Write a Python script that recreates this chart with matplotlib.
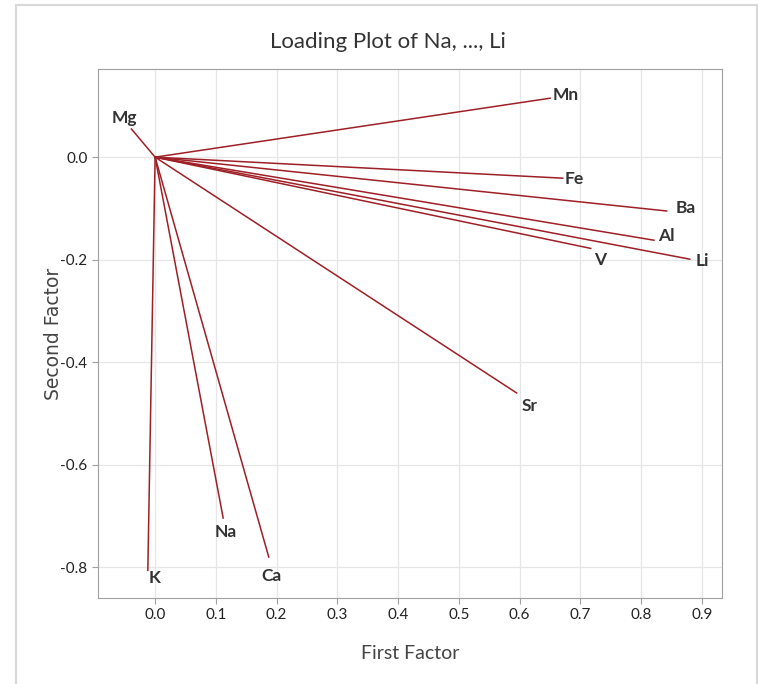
import matplotlib.pyplot as plt
from matplotlib.patches import Rectangle

# loadings
elements = ['Mn', 'Fe', 'Ba', 'Al', 'Li', 'V', 'Sr', 'Mg', 'K', 'Na', 'Ca']
first_factor = [0.650, 0.671, 0.842, 0.821, 0.880, 0.717, 0.595, -0.039, -0.012, 0.112, 0.187]
second_factor = [0.115, -0.041, -0.105, -0.162, -0.199, -0.178, -0.460, 0.055, -0.806, -0.704, -0.780]

# label offsets from line end, in pixels
offsets = {'Mn': (16, 3), 'Fe': (11, -1), 'Ba': (19, 3), 'Al': (12, 4),
           'Li': (13, -2), 'V': (9, -12), 'Sr': (13, -13), 'Mg': (-7, 11),
           'K': (7, -8), 'Na': (3, -14), 'Ca': (3, -19)}

xticks = [0.0, 0.1, 0.2, 0.3, 0.4, 0.5, 0.6, 0.7, 0.8, 0.9]
yticks = [0.0, -0.2, -0.4, -0.6, -0.8]

line_col = '#9e1f26'
fnt = ['Lato', 'DejaVu Sans']

fig = plt.figure(figsize=(7.61, 6.84), dpi=100)
ax = fig.add_axes([98 / 761, 1 - 598 / 684, 624 / 761, 529 / 684])

# frame round the whole picture
fig.patches.append(Rectangle((16 / 761, -0.01), 741 / 761, 1 - 5 / 684 + 0.01,
                             transform=fig.transFigure, fill=False,
                             edgecolor='#d8d8d8', linewidth=1.5))

for name, x, y in zip(elements, first_factor, second_factor):
    ax.plot([0, x], [0, y], color=line_col, linewidth=1.1)
    ax.annotate(name, (x, y), xytext=offsets[name], textcoords='offset pixels',
                ha='center', va='center', fontsize=12.5, fontweight='bold',
                color='#333333', family=fnt)

ax.set_xlim(-0.094, 0.933)
ax.set_ylim(-0.860, 0.172)
ax.set_xticks(xticks)
ax.set_yticks(yticks)
ax.set_xticklabels([f'{v:.1f}' for v in xticks], family=fnt, fontsize=11)
ax.set_yticklabels([f'{v:.1f}' for v in yticks], family=fnt, fontsize=11)
ax.grid(True, color='#e6e6e6', linewidth=0.9)
ax.set_axisbelow(True)
for s in ax.spines.values():
    s.set_color('#a0a0a0')
ax.tick_params(colors='#a0a0a0', length=4, labelcolor='#222222')

ax.set_xlabel('First Factor', family=fnt, fontsize=14, color='#444444', labelpad=16)
ax.set_ylabel('Second Factor', fontsize=13.5, fontweight='medium', color='#444444', labelpad=-2)
fig.text(388 / 761, 1 - 42 / 684, 'Loading Plot of Na, ..., Li', ha='center', va='center',
         family=fnt, fontsize=16, color='#333333')

fig.savefig('out.png', dpi=100, facecolor='white')
